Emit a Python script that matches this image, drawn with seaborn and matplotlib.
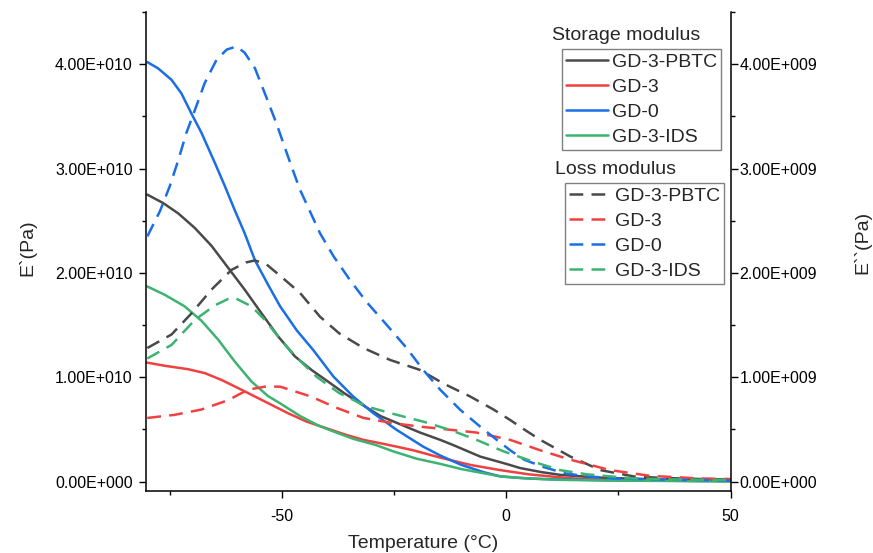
import matplotlib
matplotlib.use("Agg")
import matplotlib.pyplot as plt
from matplotlib.ticker import MultipleLocator, FuncFormatter
import seaborn as sns
import pandas as pd

# ---------------- data ----------------
series_names = ["GD-3-PBTC", "GD-3", "GD-0", "GD-3-IDS"]
series_colors = ["#4a4a4a", "#f04040", "#1a6ee6", "#3cb371"]

# Storage modulus E' (in units of 1e10 Pa)
t_sto_pbtc = [-80, -76.5, -73.1, -69.4, -65.7, -62, -58.3, -54.5, -50.8, -47.1, -43.4, -39.7, -36.2, -32.6, -28.1, -25.9, -19.2, -14.7, -11.8, -5.8, 0, 3.1, 8, 12, 20, 30, 40, 50]
e_sto_pbtc = [2.75, 2.67, 2.57, 2.43, 2.26, 2.05, 1.84, 1.61, 1.39, 1.20, 1.07, 0.958, 0.85, 0.75, 0.63, 0.59, 0.47, 0.40, 0.35, 0.24, 0.17, 0.13, 0.09, 0.065, 0.04, 0.025, 0.015, 0.01]

t_sto_gd3 = [-80, -76.1, -70.9, -67.2, -63.5, -59.7, -56, -52.3, -48.6, -44.5, -40, -35.6, -31.8, -28.1, -24.4, -20.7, -14.7, -8, -1.3, 5, 9.8, 15, 21, 30, 40, 50]
e_sto_gd3 = [1.14, 1.11, 1.077, 1.04, 0.975, 0.895, 0.815, 0.735, 0.655, 0.575, 0.51, 0.447, 0.40, 0.368, 0.335, 0.30, 0.23, 0.16, 0.11, 0.07, 0.05, 0.03, 0.016, 0.01, 0.007, 0.005]

t_sto_gd0 = [-80, -77.6, -74.6, -72.4, -70.2, -67.9, -64.9, -62.7, -60.5, -58.3, -56, -53, -50.4, -46.7, -43, -38.5, -34.1, -29.6, -24.4, -18.5, -14.7, -10, -5, -1.3, 3, 8, 12, 20, 30, 40, 50]
e_sto_gd0 = [4.02, 3.96, 3.85, 3.72, 3.53, 3.34, 3.05, 2.83, 2.60, 2.38, 2.12, 1.88, 1.68, 1.45, 1.26, 1.006, 0.815, 0.655, 0.495, 0.335, 0.25, 0.16, 0.09, 0.05, 0.035, 0.025, 0.02, 0.015, 0.01, 0.008, 0.005]

t_sto_ids = [-80, -76.1, -71.7, -67.9, -64.2, -60.5, -56.8, -53.1, -50.4, -46, -42, -38.5, -34.1, -29, -25.2, -20, -14.7, -10, -5, -1.3, 5, 12, 20, 30, 40, 50]
e_sto_ids = [1.87, 1.79, 1.68, 1.54, 1.36, 1.15, 0.96, 0.82, 0.75, 0.63, 0.54, 0.48, 0.41, 0.35, 0.29, 0.22, 0.17, 0.12, 0.08, 0.05, 0.03, 0.017, 0.012, 0.008, 0.005, 0.003]

# Loss modulus E'' (in units of 1e9 Pa)
t_loss_pbtc = [-80, -74.6, -70.2, -65.7, -61.2, -58, -56, -53.4, -50.6, -46, -41.5, -37.2, -31.8, -25.9, -19.2, -14, -8, -2.8, 0.9, 4, 7.6, 14.3, 21, 28.4, 35, 43.3, 50]
v_loss_pbtc = [1.28, 1.41, 1.61, 1.84, 2.03, 2.10, 2.12, 2.08, 1.98, 1.81, 1.58, 1.42, 1.28, 1.166, 1.07, 0.94, 0.815, 0.69, 0.59, 0.50, 0.40, 0.24, 0.11, 0.05, 0.035, 0.025, 0.02]

t_loss_gd3 = [-80, -73.9, -68, -62, -57.6, -53.8, -50.4, -43.5, -38, -31.8, -25.2, -19.2, -13.2, -6.6, 0.9, 7.6, 14.3, 23.2, 32.1, 43.3, 50]
v_loss_gd3 = [0.61, 0.64, 0.69, 0.78, 0.88, 0.91, 0.91, 0.815, 0.71, 0.61, 0.56, 0.527, 0.50, 0.47, 0.40, 0.30, 0.21, 0.11, 0.055, 0.03, 0.025]

t_loss_gd0 = [-80, -77.2, -75, -73.1, -71.3, -69.4, -67.2, -64.6, -62.3, -60.1, -58.3, -56, -53.8, -51.2, -48.6, -46, -41.5, -38.5, -34.8, -31.1, -26.6, -22.2, -18.5, -14.7, -10.3, -5.8, -2.1, 0.9, 4, 8.3, 13, 18, 25, 35, 50]
v_loss_gd0 = [2.35, 2.59, 2.83, 3.08, 3.34, 3.56, 3.82, 4.04, 4.14, 4.17, 4.11, 3.96, 3.72, 3.43, 3.11, 2.80, 2.38, 2.16, 1.93, 1.72, 1.50, 1.28, 1.07, 0.88, 0.69, 0.527, 0.40, 0.30, 0.21, 0.14, 0.08, 0.05, 0.03, 0.02, 0.01]

t_loss_ids = [-80, -74.6, -69.4, -64.9, -62, -60.5, -56.8, -53.8, -50.3, -46.5, -42.3, -37.3, -31.1, -24.4, -18.5, -12.5, -6.6, -0.6, 6.1, 12, 18, 28.4, 38, 50]
v_loss_ids = [1.18, 1.31, 1.55, 1.69, 1.75, 1.76, 1.68, 1.55, 1.36, 1.18, 1.006, 0.85, 0.72, 0.64, 0.575, 0.495, 0.40, 0.29, 0.19, 0.11, 0.07, 0.03, 0.02, 0.015]

x_ticks = [-50, 0, 50]
left_ticks = [0, 1e10, 2e10, 3e10, 4e10]
right_ticks = [0, 1e9, 2e9, 3e9, 4e9]

# ---------------- build frames ----------------
sto_t = [t_sto_pbtc, t_sto_gd3, t_sto_gd0, t_sto_ids]
sto_v = [e_sto_pbtc, e_sto_gd3, e_sto_gd0, e_sto_ids]
loss_t = [t_loss_pbtc, t_loss_gd3, t_loss_gd0, t_loss_ids]
loss_v = [v_loss_pbtc, v_loss_gd3, v_loss_gd0, v_loss_ids]

def frame(ts, vs, scale):
    rows = []
    for name, t, v in zip(series_names, ts, vs):
        for a, b in zip(t, v):
            rows.append({"T": a, "val": b * scale, "sample": name})
    return pd.DataFrame(rows)

df_sto = frame(sto_t, sto_v, 1e10)
df_loss = frame(loss_t, loss_v, 1e9)

# ---------------- plotting ----------------
sns.set_theme(style="ticks")
plt.rcParams["font.family"] = ["Liberation Sans", "DejaVu Sans"]
plt.rcParams["axes.unicode_minus"] = False
plt.rcParams["lines.solid_capstyle"] = "round"
plt.rcParams["lines.solid_joinstyle"] = "round"

fig = plt.figure(figsize=(8.73, 5.53), dpi=100)
ax = fig.add_axes([0.1672, 0.1121, 0.6696, 0.8662])
ax2 = ax.twinx()

palette = dict(zip(series_names, series_colors))
lw = 1.8

sns.lineplot(data=df_sto, x="T", y="val", hue="sample", hue_order=series_names,
             palette=palette, ax=ax, linewidth=lw, legend=False, sort=False,
             estimator=None)
sns.lineplot(data=df_loss, x="T", y="val", hue="sample", hue_order=series_names,
             palette=palette, ax=ax2, linewidth=lw, legend=False, sort=False,
             estimator=None)
for ln in ax2.get_lines():
    ln.set_dashes((5.5, 3.3))
    ln.set_dash_joinstyle("round")

ax.set_xlim(-80.3, 50)
ax.set_ylim(-0.09e10, 4.5e10)
ax2.set_ylim(-0.09e9, 4.5e9)

ax.set_xticks(x_ticks)
ax.xaxis.set_minor_locator(MultipleLocator(25))
ax.set_yticks(left_ticks)
ax.yaxis.set_minor_locator(MultipleLocator(0.5e10))
ax2.set_yticks(right_ticks)
ax2.yaxis.set_minor_locator(MultipleLocator(0.5e9))

def sci_fmt(v, pos):
    if v == 0:
        return "0.00E+000"
    s = "%.2E" % v
    mant, exp = s.split("E")
    sign = exp[0]
    return "%sE%s%03d" % (mant, sign, abs(int(exp)))

ax.yaxis.set_major_formatter(FuncFormatter(sci_fmt))
ax2.yaxis.set_major_formatter(FuncFormatter(sci_fmt))

for a in (ax, ax2):
    for s in a.spines.values():
        s.set_linewidth(1.1)
        s.set_color("black")
    a.spines["top"].set_visible(False)
    a.tick_params(which="major", direction="out", length=5, width=1.0,
                  labelsize=11.5, color="black", labelcolor="black")
    a.tick_params(which="minor", direction="out", length=3, width=1.0, color="black")
ax.tick_params(axis="y", pad=4.5)
ax.tick_params(axis="x", pad=8)
ax2.tick_params(axis="y", pad=1.5)
ax.spines["right"].set_visible(False)
ax2.spines["left"].set_visible(False)
ax2.spines["bottom"].set_visible(False)

ax.set_xlabel("Temperature (°C)", fontsize=14, va="center")
ax.xaxis.set_label_coords(0.474, -0.1086)
ax.set_ylabel("E`(Pa)", fontsize=14, va="center")
ax.yaxis.set_label_coords(-0.2036, 0.509)
ax2.set_ylabel("E``(Pa)", fontsize=14, va="center", rotation=90)
ax2.yaxis.set_label_coords(1.225, 0.518)

# legends
leg_kw = dict(fontsize=14, frameon=True, fancybox=False, framealpha=1,
              edgecolor="#808080", handlelength=2.15, handletextpad=0.2,
              borderpad=0.22, labelspacing=0.38, borderaxespad=0.0,
              loc="upper left")
leg1 = ax2.legend(ax.get_lines(), series_names,
                  bbox_to_anchor=(0.6438, 0.9108),
                  bbox_transform=fig.transFigure, **leg_kw)
leg1.get_frame().set_linewidth(1.0)
ax2.add_artist(leg1)
leg2 = ax2.legend(ax2.get_lines(), series_names,
                  bbox_to_anchor=(0.6472, 0.6685),
                  bbox_transform=fig.transFigure, **leg_kw)
leg2.get_frame().set_linewidth(1.0)

fig.text(552 / 873, 1 - 35 / 553, "Storage modulus", fontsize=14,
         ha="left", va="center")
fig.text(555 / 873, 1 - 169 / 553, "Loss modulus", fontsize=14,
         ha="left", va="center")

fig.savefig("out.png", dpi=100)
